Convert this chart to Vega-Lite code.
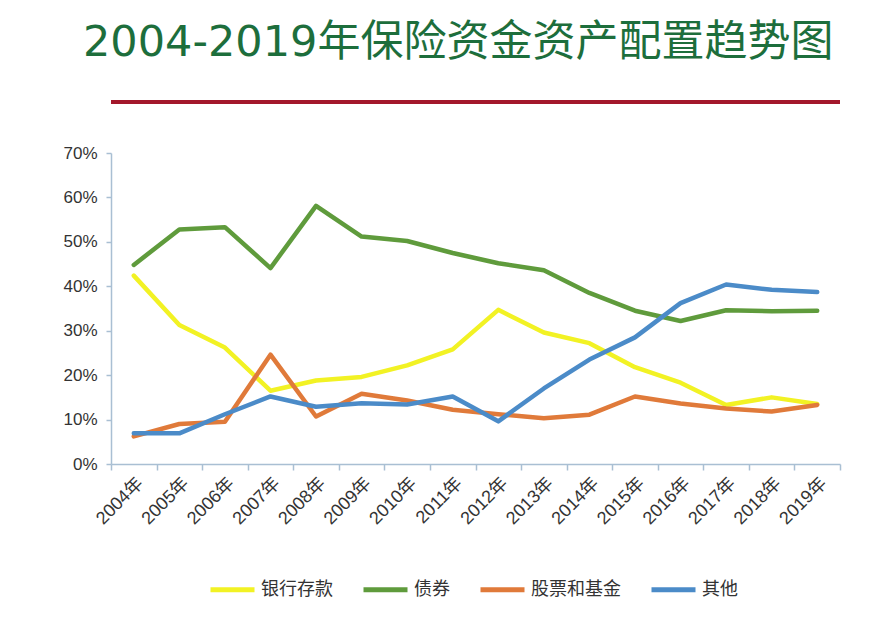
{
  "$schema": "https://vega.github.io/schema/vega-lite/v6.json",
  "width": 729,
  "height": 311,
  "autosize": {"type": "none"},
  "padding": {"left": 111, "top": 153, "right": 33, "bottom": 161},
  "background": "white",
  "title": {
    "text": "2004-2019年保险资金资产配置趋势图",
    "frame": "group",
    "anchor": "start",
    "dx": -28,
    "offset": 35,
    "font": "'DejaVu Sans', 'Noto Sans CJK SC'",
    "fontSize": 43,
    "fontWeight": "normal",
    "color": "#1d6e3c"
  },
  "config": {
    "view": {"stroke": null},
    "axis": {
      "domainColor": "#a9bfd3",
      "domainWidth": 1.5,
      "tickColor": "#a9bfd3",
      "tickWidth": 1.5,
      "labelColor": "#333333",
      "labelFont": "'Liberation Sans', 'Noto Sans CJK SC'",
      "grid": false
    }
  },
  "layer": [
    {
      "data": {"values": [{"line": "divider"}]},
      "mark": {"type": "rule", "color": "#a3172b", "strokeWidth": 4},
      "encoding": {"y": {"datum": 0.815}}
    },
    {
      "data": {
        "values": [
          {"year": "2004年", "type": "银行存款", "value": 0.424},
          {"year": "2005年", "type": "银行存款", "value": 0.313},
          {"year": "2006年", "type": "银行存款", "value": 0.262},
          {"year": "2007年", "type": "银行存款", "value": 0.165},
          {"year": "2008年", "type": "银行存款", "value": 0.188},
          {"year": "2009年", "type": "银行存款", "value": 0.196},
          {"year": "2010年", "type": "银行存款", "value": 0.222},
          {"year": "2011年", "type": "银行存款", "value": 0.258},
          {"year": "2012年", "type": "银行存款", "value": 0.347},
          {"year": "2013年", "type": "银行存款", "value": 0.296},
          {"year": "2014年", "type": "银行存款", "value": 0.272},
          {"year": "2015年", "type": "银行存款", "value": 0.218},
          {"year": "2016年", "type": "银行存款", "value": 0.183},
          {"year": "2017年", "type": "银行存款", "value": 0.133},
          {"year": "2018年", "type": "银行存款", "value": 0.150},
          {"year": "2019年", "type": "银行存款", "value": 0.135},
          {"year": "2004年", "type": "债券", "value": 0.448},
          {"year": "2005年", "type": "债券", "value": 0.528},
          {"year": "2006年", "type": "债券", "value": 0.533},
          {"year": "2007年", "type": "债券", "value": 0.441},
          {"year": "2008年", "type": "债券", "value": 0.581},
          {"year": "2009年", "type": "债券", "value": 0.512},
          {"year": "2010年", "type": "债券", "value": 0.502},
          {"year": "2011年", "type": "债券", "value": 0.475},
          {"year": "2012年", "type": "债券", "value": 0.452},
          {"year": "2013年", "type": "债券", "value": 0.436},
          {"year": "2014年", "type": "债券", "value": 0.385},
          {"year": "2015年", "type": "债券", "value": 0.345},
          {"year": "2016年", "type": "债券", "value": 0.322},
          {"year": "2017年", "type": "债券", "value": 0.346},
          {"year": "2018年", "type": "债券", "value": 0.344},
          {"year": "2019年", "type": "债券", "value": 0.345},
          {"year": "2004年", "type": "股票和基金", "value": 0.062},
          {"year": "2005年", "type": "股票和基金", "value": 0.090},
          {"year": "2006年", "type": "股票和基金", "value": 0.095},
          {"year": "2007年", "type": "股票和基金", "value": 0.246},
          {"year": "2008年", "type": "股票和基金", "value": 0.107},
          {"year": "2009年", "type": "股票和基金", "value": 0.158},
          {"year": "2010年", "type": "股票和基金", "value": 0.143},
          {"year": "2011年", "type": "股票和基金", "value": 0.122},
          {"year": "2012年", "type": "股票和基金", "value": 0.112},
          {"year": "2013年", "type": "股票和基金", "value": 0.103},
          {"year": "2014年", "type": "股票和基金", "value": 0.111},
          {"year": "2015年", "type": "股票和基金", "value": 0.152},
          {"year": "2016年", "type": "股票和基金", "value": 0.136},
          {"year": "2017年", "type": "股票和基金", "value": 0.125},
          {"year": "2018年", "type": "股票和基金", "value": 0.118},
          {"year": "2019年", "type": "股票和基金", "value": 0.133},
          {"year": "2004年", "type": "其他", "value": 0.069},
          {"year": "2005年", "type": "其他", "value": 0.069},
          {"year": "2006年", "type": "其他", "value": 0.112},
          {"year": "2007年", "type": "其他", "value": 0.152},
          {"year": "2008年", "type": "其他", "value": 0.129},
          {"year": "2009年", "type": "其他", "value": 0.137},
          {"year": "2010年", "type": "其他", "value": 0.134},
          {"year": "2011年", "type": "其他", "value": 0.152},
          {"year": "2012年", "type": "其他", "value": 0.096},
          {"year": "2013年", "type": "其他", "value": 0.170},
          {"year": "2014年", "type": "其他", "value": 0.235},
          {"year": "2015年", "type": "其他", "value": 0.285},
          {"year": "2016年", "type": "其他", "value": 0.362},
          {"year": "2017年", "type": "其他", "value": 0.404},
          {"year": "2018年", "type": "其他", "value": 0.392},
          {"year": "2019年", "type": "其他", "value": 0.387}
        ]
      },
      "mark": {"type": "line", "strokeWidth": 4.5, "strokeJoin": "round", "strokeCap": "round"},
      "encoding": {
        "x": {
          "field": "year",
          "type": "ordinal",
          "sort": null,
          "bandPosition": 0.5,
          "scale": {"type": "band", "paddingInner": 0, "paddingOuter": 0},
          "axis": {
            "title": null,
            "labelAngle": -45,
            "labelFontSize": 18,
            "tickBand": "extent",
            "tickSize": 6,
            "labelPadding": 4
          }
        },
        "y": {
          "field": "value",
          "type": "quantitative",
          "scale": {"domain": [0, 0.7], "nice": false},
          "axis": {
            "title": null,
            "format": ".0%",
            "values": [0, 0.1, 0.2, 0.3, 0.4, 0.5, 0.6, 0.7],
            "labelFontSize": 17,
            "tickSize": 5,
            "labelPadding": 9
          }
        },
        "color": {
          "field": "type",
          "type": "nominal",
          "scale": {
            "domain": ["银行存款", "债券", "股票和基金", "其他"],
            "range": ["#f2f224", "#5f9b3c", "#e07a3a", "#4b8bc8"]
          },
          "legend": {
            "title": null,
            "orient": "none",
            "legendX": 97,
            "legendY": 412,
            "direction": "horizontal",
            "symbolType": "stroke",
            "symbolSize": 1936,
            "symbolStrokeWidth": 5,
            "columnPadding": 20,
            "labelOffset": 4,
            "labelFontSize": 18,
            "labelFont": "'Noto Sans CJK SC'",
            "labelColor": "#333333"
          }
        }
      }
    }
  ]
}
